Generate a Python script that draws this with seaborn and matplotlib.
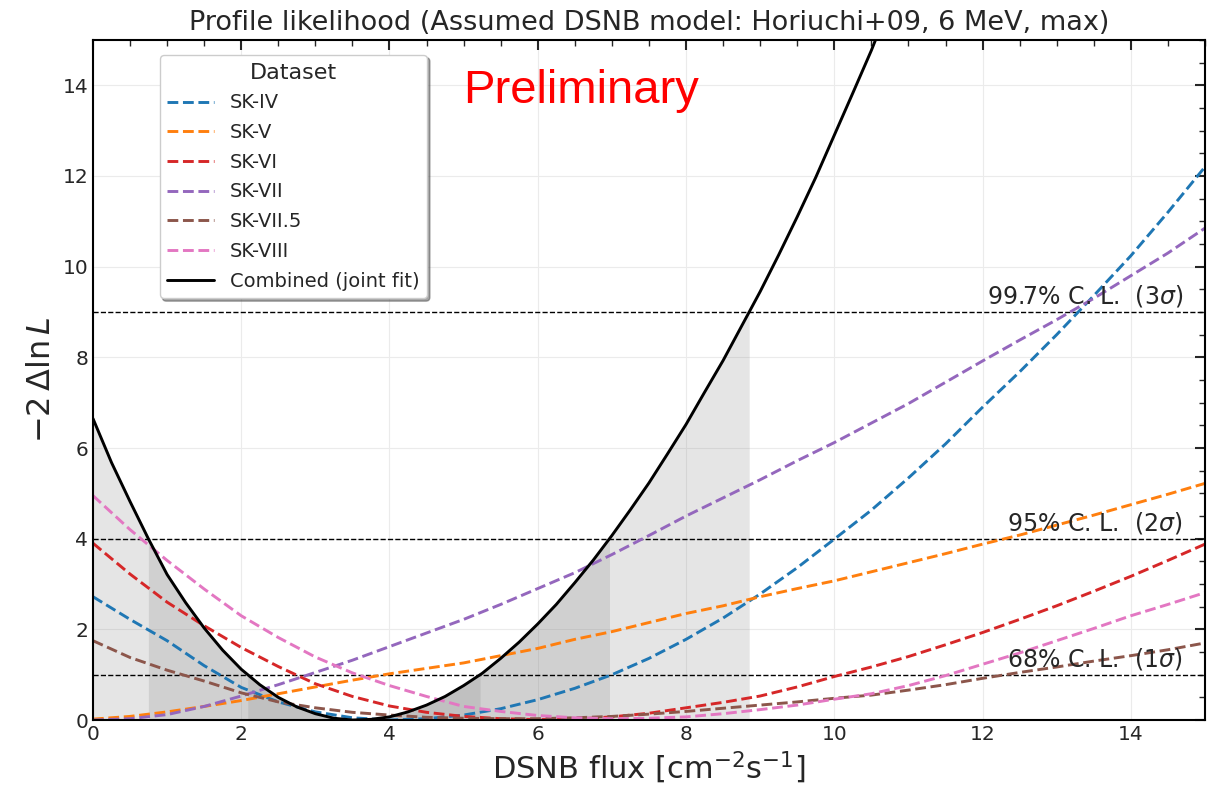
import numpy as np
import pandas as pd
import seaborn as sns
import matplotlib
matplotlib.use("Agg")
from matplotlib import pyplot as plt
from matplotlib.ticker import MultipleLocator

flux = [0.0, 0.5, 1.0, 1.5, 2.0, 2.5, 3.0, 3.5, 4.0, 4.5, 5.0, 5.5, 6.0, 6.5, 7.0, 7.5,
        8.0, 8.5, 9.0, 9.5, 10.0, 10.5, 11.0, 11.5, 12.0, 12.5, 13.0, 13.5, 14.0, 14.5, 15.0]

sk4 = [2.72, 2.22, 1.75, 1.20, 0.72, 0.40, 0.18, 0.05, 0.00, 0.03, 0.11, 0.25, 0.45, 0.70, 1.00, 1.36,
       1.78, 2.25, 2.78, 3.36, 3.99, 4.63, 5.34, 6.09, 6.90, 7.68, 8.50, 9.36, 10.24, 11.20, 12.20]
sk5 = [0.02, 0.08, 0.18, 0.30, 0.43, 0.58, 0.73, 0.88, 1.02, 1.14, 1.26, 1.42, 1.58, 1.78, 1.95, 2.15,
       2.35, 2.52, 2.72, 2.90, 3.07, 3.27, 3.47, 3.67, 3.88, 4.08, 4.30, 4.52, 4.75, 4.98, 5.22]
sk6 = [3.90, 3.22, 2.60, 2.08, 1.60, 1.18, 0.80, 0.52, 0.31, 0.17, 0.08, 0.03, 0.01, 0.02, 0.07, 0.15,
       0.27, 0.39, 0.53, 0.73, 0.96, 1.17, 1.40, 1.66, 1.93, 2.22, 2.52, 2.84, 3.17, 3.52, 3.88]
sk7 = [0.00, 0.03, 0.12, 0.30, 0.53, 0.78, 1.05, 1.32, 1.62, 1.92, 2.22, 2.55, 2.90, 3.25, 3.65, 4.07,
       4.50, 4.90, 5.30, 5.72, 6.12, 6.55, 6.98, 7.45, 7.92, 8.38, 8.83, 9.30, 9.80, 10.30, 10.85]
sk75 = [1.75, 1.38, 1.10, 0.86, 0.60, 0.40, 0.27, 0.17, 0.11, 0.06, 0.04, 0.03, 0.03, 0.05, 0.08, 0.13,
        0.19, 0.26, 0.33, 0.40, 0.48, 0.55, 0.66, 0.78, 0.92, 1.05, 1.17, 1.30, 1.42, 1.55, 1.70]
sk8 = [4.95, 4.20, 3.52, 2.89, 2.30, 1.82, 1.39, 1.04, 0.76, 0.52, 0.30, 0.19, 0.10, 0.05, 0.03, 0.04,
       0.07, 0.14, 0.23, 0.33, 0.46, 0.58, 0.76, 0.98, 1.23, 1.48, 1.75, 2.02, 2.30, 2.55, 2.81]

# joint fit, read on a finer grid (it is much steeper)
flux_comb = [0.0, 0.25, 0.5, 0.75, 1.0, 1.25, 1.5, 1.75, 2.0, 2.25, 2.5, 2.75, 3.0, 3.25, 3.5, 3.75,
             4.0, 4.25, 4.5, 4.75, 5.0, 5.25, 5.5, 5.75, 6.0, 6.25, 6.5, 6.75, 7.0, 7.25, 7.5, 7.75,
             8.0, 8.25, 8.5, 8.75, 9.0, 9.25, 9.5, 9.75, 10.0, 10.25, 10.5, 10.75, 11.0]
combined = [6.65, 5.68, 4.82, 3.99, 3.21, 2.59, 2.03, 1.54, 1.12, 0.78, 0.50, 0.29, 0.14, 0.04, 0.00, 0.015,
            0.07, 0.18, 0.33, 0.52, 0.76, 1.03, 1.36, 1.72, 2.12, 2.55, 3.03, 3.53, 4.07, 4.64, 5.23, 5.87,
            6.52, 7.23, 7.93, 8.69, 9.45, 10.26, 11.10, 11.97, 12.90, 13.83, 14.77, 15.80, 16.80]

datasets = ["SK-IV", "SK-V", "SK-VI", "SK-VII", "SK-VII.5", "SK-VIII"]
colors = ["#1f77b4", "#ff7f0e", "#d62728", "#9467bd", "#8c564b", "#e377c2"]

cl_levels = [1, 4, 9]
cl_labels = ["68% C. L.  (1$\\sigma$)", "95% C. L.  (2$\\sigma$)", "99.7% C. L.  (3$\\sigma$)"]

sns.set_style("white")
plt.rcParams['font.family'] = ['DejaVu Sans']

df = pd.DataFrame({"flux": flux * len(datasets),
                   "nll": sk4 + sk5 + sk6 + sk7 + sk75 + sk8,
                   "Dataset": [d for d in datasets for _ in flux]})

fig = plt.figure(figsize=(12.12, 7.93), dpi=100)
ax = fig.add_axes([0.0767, 0.092, 0.9175, 0.8576])

# shaded confidence intervals under the combined curve
x = np.array(flux_comb)
y = np.array(combined)
imin = int(np.argmin(y))
for lev in cl_levels:
    left = np.interp(lev, y[:imin + 1][::-1], x[:imin + 1][::-1]) if y[0] > lev else x[0]
    right = np.interp(lev, y[imin:], x[imin:])
    inside = (x > left) & (x < right)
    xs = np.concatenate([[left], x[inside], [right]])
    ys = np.concatenate([[np.interp(left, x, y)], y[inside], [np.interp(right, x, y)]])
    ax.fill_between(xs, 0, ys, color="gray", alpha=0.2, lw=0)

for name, col in zip(datasets, colors):
    sns.lineplot(data=df[df["Dataset"] == name], x="flux", y="nll", color=col, lw=2.1,
                 linestyle="--", label=name, ax=ax, sort=False, estimator=None)
sns.lineplot(x=flux_comb, y=combined, color="black", lw=2.1, label="Combined (joint fit)", ax=ax,
             sort=False, estimator=None)

for lev, lab in zip(cl_levels, cl_labels):
    ax.axhline(lev, color="black", ls="--", lw=1, zorder=1)
    ax.text(14.7, lev + 0.07, lab, ha="right", va="bottom", fontsize=17)

ax.text(0.333, 0.907, "Preliminary", color="red", fontsize=34, family="Liberation Sans",
        transform=ax.transAxes, va="baseline")

ax.set_xlim(0, 15)
ax.set_ylim(0, 15)
ax.xaxis.set_major_locator(MultipleLocator(2))
ax.xaxis.set_minor_locator(MultipleLocator(0.5))
ax.yaxis.set_major_locator(MultipleLocator(2))
ax.yaxis.set_minor_locator(MultipleLocator(0.5))
ax.tick_params(which="both", direction="in", top=True, right=True, labelsize=14.5)
ax.tick_params(which="major", length=7, width=1.5)
ax.tick_params(which="minor", length=4, width=1)
for s in ax.spines.values():
    s.set_linewidth(1.5)
    s.set_color("black")
ax.grid(True, which="major", color="#ebebeb", lw=0.8)
ax.set_axisbelow(True)

ax.set_title("Profile likelihood (Assumed DSNB model: Horiuchi+09, 6 MeV, max)", fontsize=19.5, pad=7)
ax.set_xlabel("DSNB flux [cm$^{-2}$s$^{-1}$]", fontsize=22)
ax.set_ylabel("$-2\\,\\Delta\\ln L$", fontsize=23)

leg = ax.legend(title="Dataset", loc="upper left", bbox_to_anchor=(0.06, 0.978), borderaxespad=0,
                fontsize=14, title_fontsize=16, shadow=True, fancybox=True, handlelength=2.4,
                labelspacing=0.55, framealpha=1)
leg.get_frame().set_edgecolor("#cccccc")

fig.savefig("out.png", dpi=100)
